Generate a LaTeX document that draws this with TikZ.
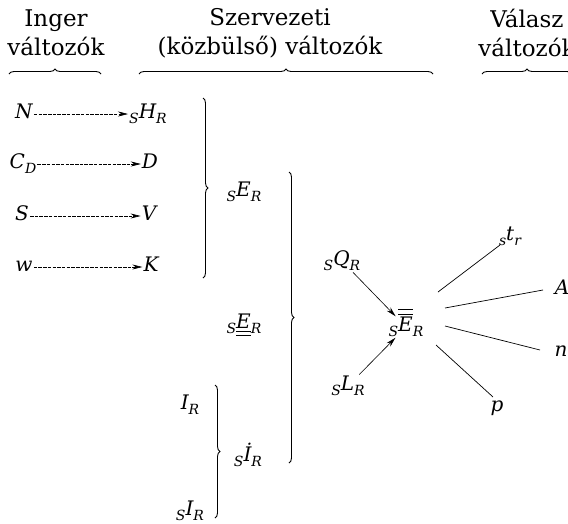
\documentclass[tikz,border=0pt]{standalone}
\usepackage{fontspec}
\setmainfont{DejaVu Serif}
\usepackage{amsmath}
\usetikzlibrary{arrows.meta,decorations.pathreplacing}
\newcommand{\lsub}[1]{\raisebox{-0.45ex}{\fontsize{14}{14}\selectfont\itshape #1}}
\tikzset{
  lab/.style={font=\fontsize{20}{20}\selectfont\itshape, inner sep=1pt, text height=14pt, text depth=5pt},
  head/.style={font=\fontsize{23}{29}\selectfont, align=center, inner sep=0pt},
  darr/.style={-{Stealth[length=10pt,width=5pt]}, line width=0.6pt, dash pattern=on 3.5pt off 1.2pt},
  sarr/.style={-{Stealth[length=10pt,width=5pt]}, line width=0.6pt},
  brc/.style={decorate, decoration={brace, amplitude=5pt}, line width=0.9pt},
  ln/.style={line width=0.7pt}
}
\begin{document}
\begin{tikzpicture}[x=1pt,y=-1pt]
\clip (0,0) rectangle (568,523);
\fill[white] (0,0) rectangle (568,523);
% headers
\node[head] (h1) at (56,33) {Inger\\változók};
\node[head] (h2) at (270,33) {Szervezeti\\(közbülső) változók};
\node[head] (h3) at (527,33) {Válasz\\változók};
\draw[brc] (9,74) -- (101,74);
\draw[brc] (139,74) -- (433,74);
\draw[brc] (482,74) -- (572,74);
% stimulus column
\node[lab] (N)  at (24,114) {N};
\node[lab] (CD) at (23,164) {C\lsub{D}};
\node[lab] (S)  at (22,216) {S};
\node[lab] (w)  at (24,267) {w};
\node[lab] (HR) at (148,114) {\lsub{S}H\lsub{R}};
\node[lab] (D)  at (150,164) {D};
\node[lab] (V)  at (149,216) {V};
\node[lab] (K)  at (151,267) {K};
\draw[darr] (N) -- (HR);
\draw[darr] (CD) -- (D);
\draw[darr] (S) -- (V);
\draw[darr] (w) -- (K);
% braces
\draw[brc] (203,98) -- (203,278);
\draw[brc] (289,172) -- (289,463);
\draw[brc] (215,385) -- (215,518);
% intervening
\node[lab] (ER)  at (244,192) {\lsub{S}E\lsub{R}};
\node[lab] (EER) at (244,324) {\lsub{S}$\underline{\underline{\mbox{\itshape E}}}$\lsub{R}};
\node[lab] (IR)  at (190,405) {I\lsub{R}};
\node[lab] (sIR) at (190,511) {\lsub{S}I\lsub{R}};
\node[lab] (IdR) at (248,457) {\lsub{S}İ\lsub{R}};
\node[lab] (QR)  at (342,261) {\lsub{S}Q\lsub{R}};
\node[lab] (LR)  at (348,386) {\lsub{S}L\lsub{R}};
\node[lab] (EbR) at (406,327) {\lsub{S}$\overline{\overline{\mbox{\itshape E}}}$\lsub{R}};
\draw[sarr, shorten <=1pt] (QR) -- (EbR);
\draw[sarr, shorten <=1pt] (LR) -- (EbR);
% responses
\node[lab] (tr) at (510,236) {\lsub{s}t\lsub{r}};
\node[lab] (A)  at (562,290) {A};
\node[lab] (n)  at (561,352) {n};
\node[lab] (p)  at (497,407) {p};
\coordinate (t1) at (438,292); \coordinate (t2) at (500,245);
\coordinate (a1) at (445,308); \coordinate (a2) at (543,290);
\coordinate (n1) at (445,326); \coordinate (n2) at (540,350);
\coordinate (p1) at (436,345); \coordinate (p2) at (493,397);
\draw[ln] (t1) -- (t2);
\draw[ln] (a1) -- (a2);
\draw[ln] (n1) -- (n2);
\draw[ln] (p1) -- (p2);
\end{tikzpicture}
\end{document}
